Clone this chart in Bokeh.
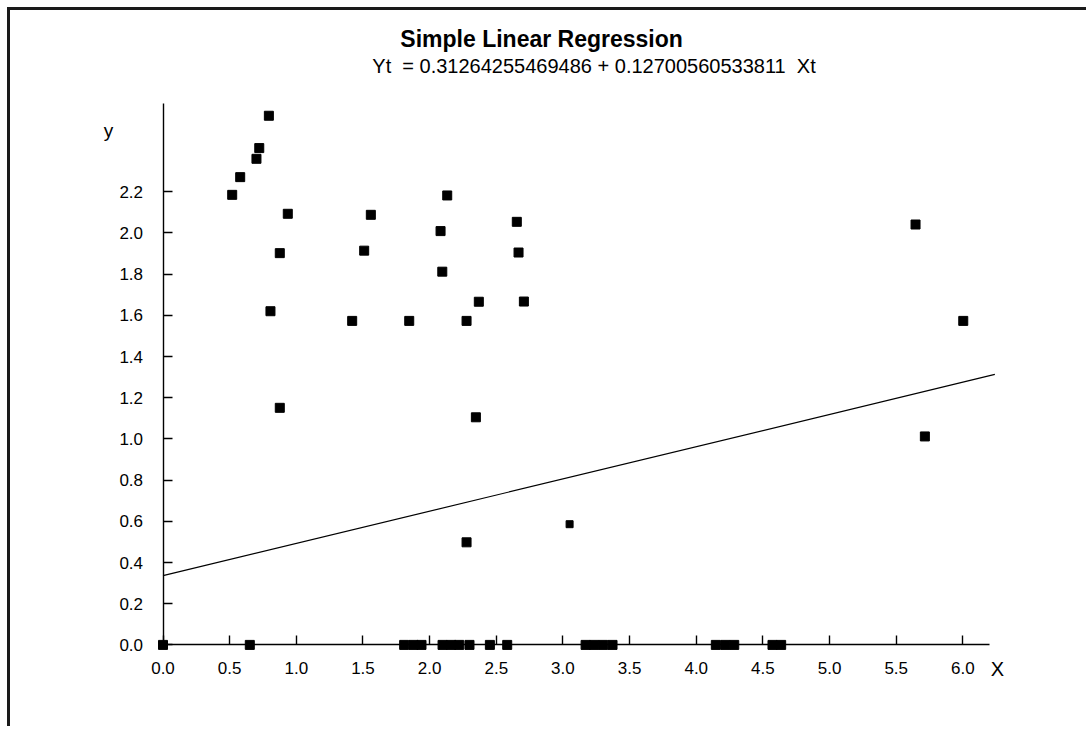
from bokeh.plotting import figure
from bokeh.embed import file_html
from bokeh.resources import INLINE
from bokeh.models import Range1d, FixedTicker, PrintfTickFormatter, Label

# ---- data ----
scatter_x = [0.519, 0.579, 0.701, 0.722, 0.794, 0.936, 0.876, 0.806, 0.876,
             1.419, 1.509, 1.559, 1.847, 2.082, 2.095, 2.132, 2.369, 2.277,
             2.347, 2.277, 2.654, 2.667, 2.707, 5.645, 6.003, 5.715]
scatter_y = [2.185, 2.271, 2.360, 2.412, 2.569, 2.093, 1.902, 1.620, 1.151,
             1.573, 1.914, 2.088, 1.573, 2.009, 1.812, 2.182, 1.666, 1.573,
             1.105, 0.498, 2.054, 1.905, 1.667, 2.041, 1.573, 1.012]
small_x = [3.050]
small_y = [0.586]
zero_x = [0.0, 0.651, 1.809, 1.879, 1.939, 2.097, 2.162, 2.222, 2.299, 2.452,
          2.582, 3.170, 3.235, 3.302, 3.372, 4.147, 4.218, 4.285, 4.572, 4.637]
zero_y = [0.0] * len(zero_x)
line_x = [0.0, 6.24]
line_y = [0.336, 1.313]

x_ticks = [0.0, 0.5, 1.0, 1.5, 2.0, 2.5, 3.0, 3.5, 4.0, 4.5, 5.0, 5.5, 6.0]
y_ticks = [0.0, 0.2, 0.4, 0.6, 0.8, 1.0, 1.2, 1.4, 1.6, 1.8, 2.0, 2.2]

title_text = "Simple Linear Regression"
subtitle_text = "Yt \u00a0= 0.31264255469486 + 0.12700560533811 \u00a0Xt"
x_label = "X"
y_label = "y"

FONT = "Liberation Sans"

p = figure(width=1079, height=719, output_backend="svg", toolbar_location=None,
           x_range=Range1d(-0.694, 6.95), y_range=Range1d(-0.168, 3.080),
           min_border_left=60, min_border_right=0, min_border_top=0,
           min_border_bottom=50)
p.styles = {"margin-left": "7px", "margin-top": "7px",
            "border-left": "3px solid #1a1a1a", "border-top": "3px solid #1a1a1a"}
p.outline_line_color = None
p.xgrid.visible = False
p.ygrid.visible = False
p.background_fill_color = "white"
p.border_fill_color = "white"

for ax in (p.xaxis[0], p.yaxis[0]):
    ax.fixed_location = 0
    ax.axis_line_color = "black"
    ax.axis_line_width = 1.4
    ax.major_tick_line_color = "black"
    ax.major_tick_line_width = 1.4
    ax.major_tick_in = 9
    ax.major_tick_out = 0
    ax.minor_tick_line_color = None
    ax.major_label_text_font = FONT
    ax.major_label_text_font_size = "17px"
    ax.major_label_text_color = "black"
    ax.formatter = PrintfTickFormatter(format="%.1f")

p.xaxis[0].ticker = FixedTicker(ticks=x_ticks)
p.yaxis[0].ticker = FixedTicker(ticks=y_ticks)
p.xaxis[0].bounds = (0, 6.2)
p.yaxis[0].bounds = (0, 2.63)
p.xaxis[0].major_label_standoff = 17
p.yaxis[0].major_label_standoff = 20

# regression line
p.line(line_x, line_y, line_color="black", line_width=1.2)

# points
p.scatter(scatter_x, scatter_y, marker="square", size=9, color="black")
p.scatter(small_x, small_y, marker="square", size=7, color="black")
p.scatter(zero_x, zero_y, marker="square", size=9, color="black")

# texts
p.add_layout(Label(x=2.84, y=2.944, text=title_text, text_font=FONT,
                   text_font_style="bold", text_font_size="23px",
                   text_align="center", text_baseline="middle", text_color="black"))
p.add_layout(Label(x=3.233, y=2.812, text=subtitle_text, text_font=FONT,
                   text_font_size="20px", text_align="center",
                   text_baseline="middle", text_color="black"))
p.add_layout(Label(x=-0.409, y=2.496, text=y_label, text_font=FONT,
                   text_font_size="19px", text_align="center",
                   text_baseline="middle", text_color="black"))
p.add_layout(Label(x=6.26, y=-0.119, text=x_label, text_font=FONT,
                   text_font_size="20px", text_align="center",
                   text_baseline="middle", text_color="black"))

open("out.html", "w").write(file_html(p, INLINE))
